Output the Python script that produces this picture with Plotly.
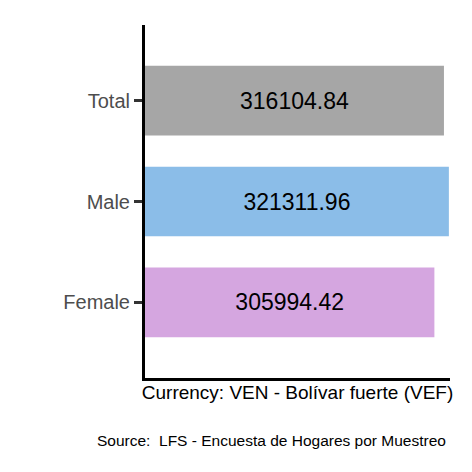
import plotly.graph_objects as go

categories = ["Female", "Male", "Total"]
values = [305994.42, 321311.96, 316104.84]
colors = ["#d5a6e0", "#8bbde8", "#a6a6a6"]
labels = ["305994.42", "321311.96", "316104.84"]

fig = go.Figure(go.Bar(
    x=values, y=categories, orientation="h",
    marker=dict(color=colors, line=dict(width=0)),
    width=0.69,
    text=labels, textposition="inside", insidetextanchor="middle",
    textfont=dict(size=23, color="black", family="Liberation Sans"),
    hoverinfo="skip",
))

fig.update_layout(
    width=464, height=464,
    margin=dict(l=137, r=22, t=17, b=94),
    plot_bgcolor="white", paper_bgcolor="white",
    font=dict(family="Liberation Sans"),
    showlegend=False,
    xaxis=dict(
        range=[0, 322500], showgrid=False, zeroline=False,
        showticklabels=False, ticks="",
        showline=True, linecolor="black", linewidth=3,
        title=dict(text="Currency: VEN - Bolívar fuerte (VEF)", font=dict(size=19, color="black"), standoff=6),
    ),
    yaxis=dict(
        range=[-0.75, 2.75],
        showgrid=False, zeroline=False,
        showline=True, linecolor="black", linewidth=3,
        ticks="outside", ticklen=8, tickwidth=3, tickcolor="#333333",
        tickfont=dict(size=20, color="#4d4d4d"),
    ),
    annotations=[dict(
        text="Source:  LFS - Encuesta de Hogares por Muestreo",
        xref="paper", yref="paper", x=0.993, y=-0.147,
        xanchor="right", yanchor="top", showarrow=False,
        font=dict(size=15.5, color="black"),
    )],
)

fig.write_html("out.html")
